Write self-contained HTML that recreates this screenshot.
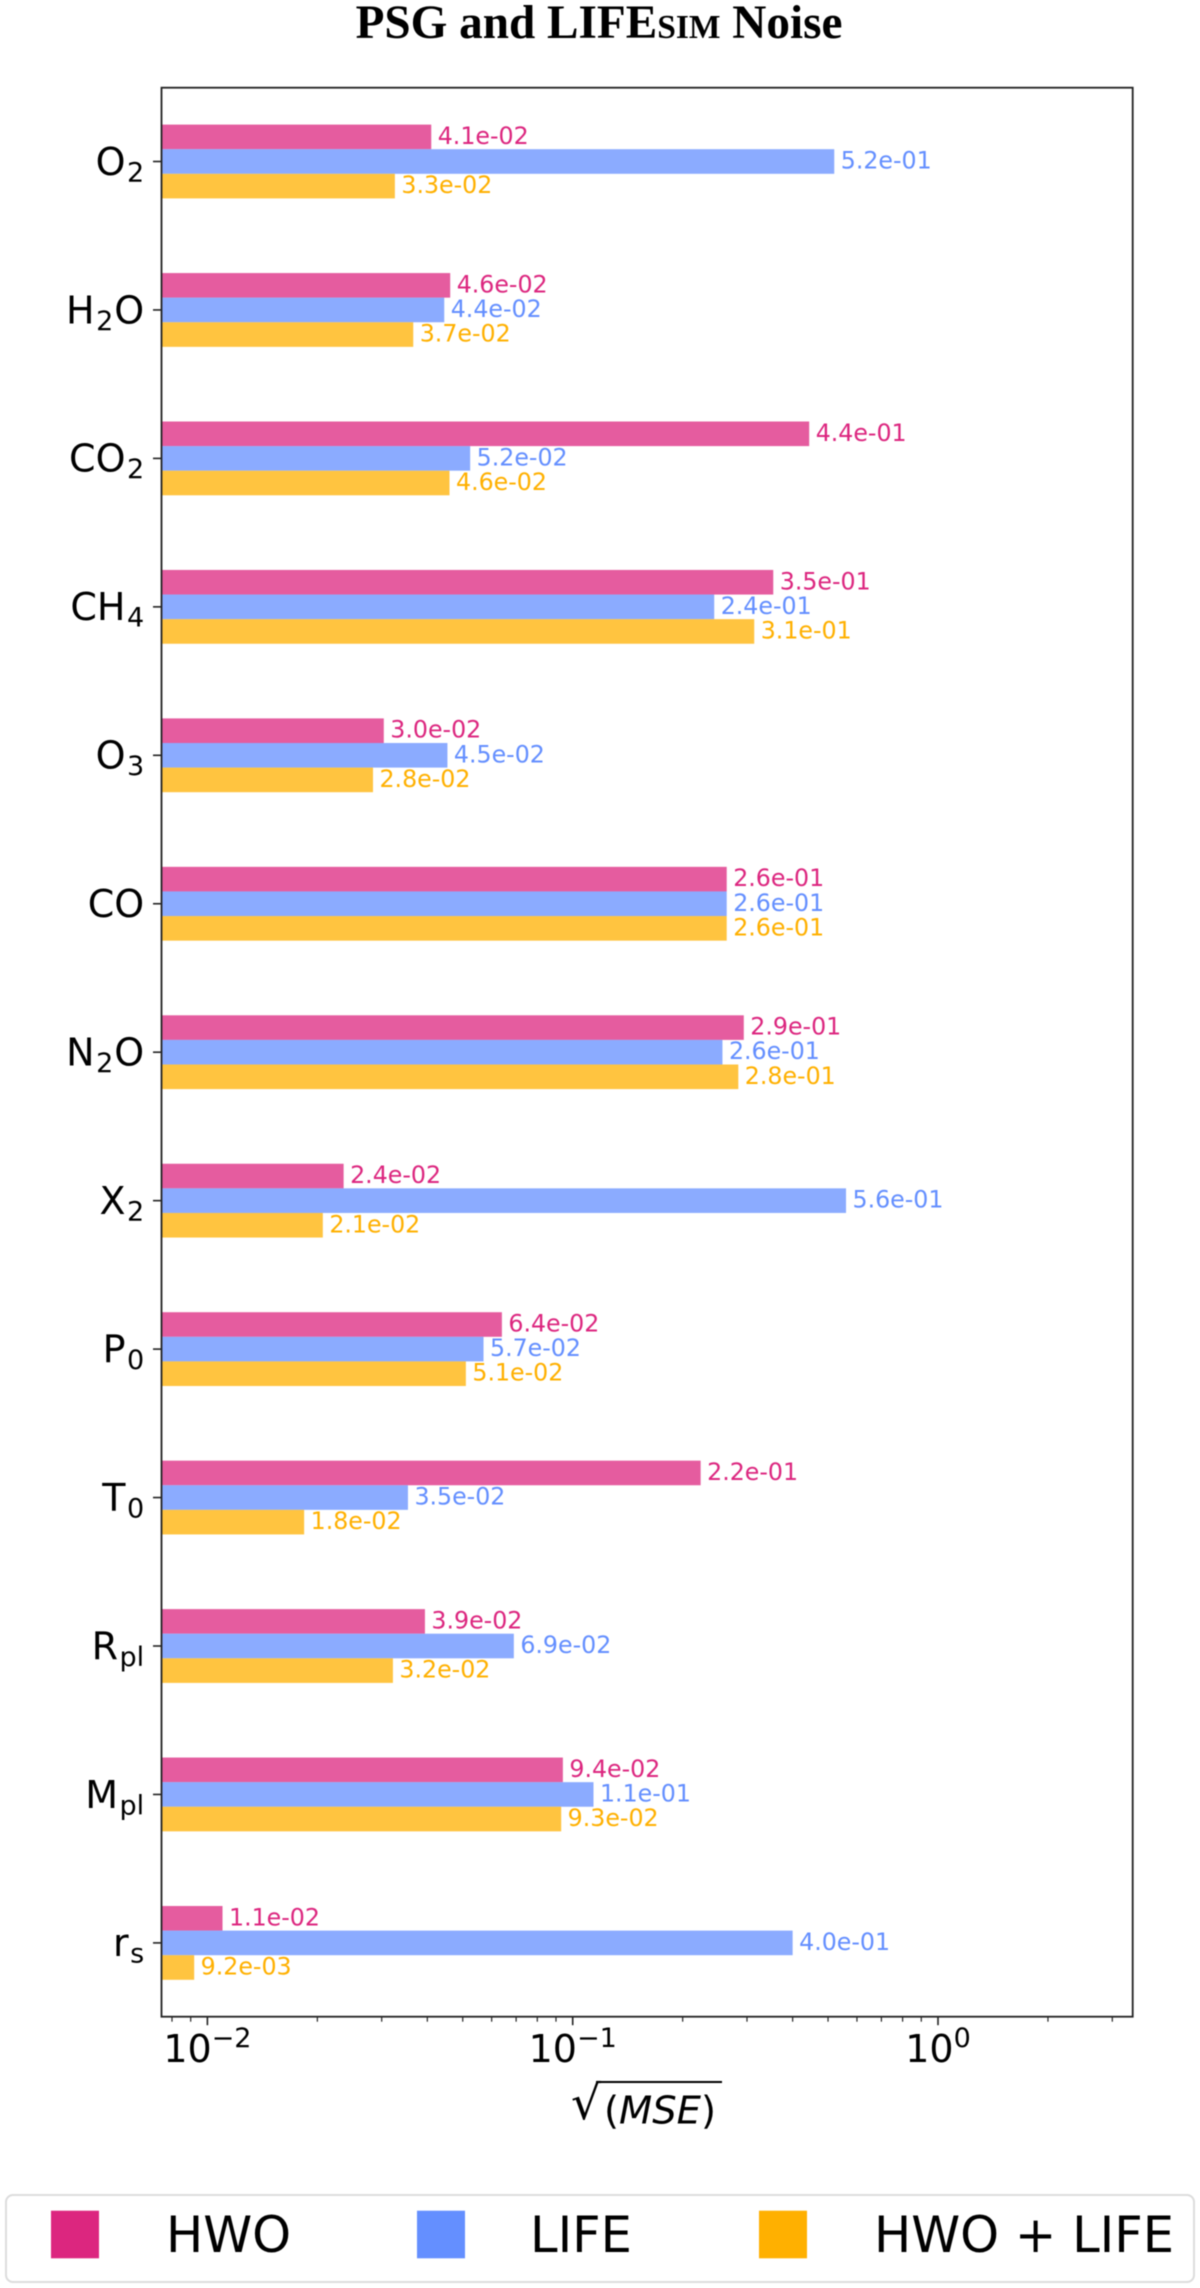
<!DOCTYPE html>
<html lang="en">
<head>
<meta charset="utf-8">
<title>PSG and LIFEsim Noise</title>
<style>
html,body{margin:0;padding:0;background:#fff;}
#chart{display:block;filter:blur(0.5px);}
text{font-family:"DejaVu Sans",sans-serif;}
</style>
</head>
<body>
<svg id="chart" xmlns="http://www.w3.org/2000/svg" width="1200" height="2288" viewBox="0 0 1200 2288">
  <rect x="0" y="0" width="1200" height="2288" fill="#ffffff"/>
  <text x="599" y="38" text-anchor="middle" font-size="47.2" font-weight="bold" style="font-family:'Liberation Serif',serif">PSG and LIFE<tspan font-size="33.5">SIM</tspan> Noise</text>
  <g id="bars"></g>
  <g id="axes"></g>
  <g>
    <text x="571" y="2119" font-size="47">√</text>
    <line x1="596" y1="2082" x2="722" y2="2082" stroke="#000" stroke-width="2"/>
    <text x="604" y="2123.3" font-size="38.5">(<tspan font-style="italic">MSE</tspan>)</text>
  </g>
  <g>
    <rect x="6" y="2195" width="1188" height="87" rx="7" ry="7" fill="#fff" stroke="#dcdcdc" stroke-width="2"/>
    <rect x="51" y="2210.7" width="48" height="47.6" fill="#DC267F"/>
    <text x="166" y="2252" font-size="49.5">HWO</text>
    <rect x="417" y="2210.7" width="48" height="47.6" fill="#648FFF"/>
    <text x="530" y="2252" font-size="49.5">LIFE</text>
    <rect x="759" y="2210.7" width="48" height="47.6" fill="#FFB000"/>
    <text x="874" y="2252" font-size="49.5">HWO + LIFE</text>
  </g>
</svg>
<script>
const categories = ["O_2","H_2O","CO_2","CH_4","O_3","CO","N_2O","X_2","P_0","T_0","R_pl","M_pl","r_s"];
const hwoValues = [0.041,0.0462,0.444,0.354,0.0304,0.264,0.294,0.0236,0.064,0.224,0.0394,0.094,0.011];
const lifeValues = [0.52,0.0445,0.0524,0.244,0.0454,0.264,0.257,0.56,0.057,0.0354,0.069,0.114,0.40];
const bothValues = [0.0326,0.0366,0.046,0.314,0.0284,0.264,0.284,0.0207,0.051,0.0184,0.0322,0.093,0.0092];
const majorTickValues = [0.01,0.1,1];
const majorTickExponents = ["\u22122","\u22121","0"];
const minorTickValues = [0.008,0.009,0.02,0.03,0.04,0.05,0.06,0.07,0.08,0.09,0.2,0.3,0.4,0.5,0.6,0.7,0.8,0.9,2,3];

const NS = "http://www.w3.org/2000/svg";
const plot = {left:161.5, right:1132.7, top:87.7, bottom:2016.7};
const decadePx = 365.3, xOfOne = 938;
const firstCatY = 161.5, catStep = 148.45, barH = 24.6;

function xScale(v){ return xOfOne + decadePx * Math.log10(v); }
function yScale(i){ return firstCatY + catStep * i; }
function make(tag, parent){
  const el = document.createElementNS(NS, tag);
  parent.appendChild(el);
  return el;
}
function fmt(v){
  const p = v.toExponential(1).split("e");
  const e = parseInt(p[1], 10);
  return p[0] + "e" + (e < 0 ? "-" : "+") + String(Math.abs(e)).padStart(2, "0");
}

const barsLayer = document.getElementById("bars");
const axesLayer = document.getElementById("axes");
const series = [
  {key:"hwo", values:hwoValues, fill:"#DC267F"},
  {key:"life", values:lifeValues, fill:"#648FFF"},
  {key:"hwo-life", values:bothValues, fill:"#FFB000"}
];

series.forEach(function(s, si){
  s.values.forEach(function(v, i){
    const yTop = yScale(i) + (si - 1.5) * barH;
    const xEnd = xScale(v);
    const r = make("rect", barsLayer);
    
    
    r.setAttribute("x", plot.left);
    r.setAttribute("y", yTop);
    r.setAttribute("width", Math.max(0, xEnd - plot.left));
    r.setAttribute("height", barH);
    r.setAttribute("fill", s.fill);
    r.setAttribute("fill-opacity", "0.75");
    const t = make("text", barsLayer);
    
    
    t.setAttribute("x", xEnd + 6.5);
    t.setAttribute("y", yScale(i) + (si - 1) * barH + 7);
    t.setAttribute("font-size", "23.7");
    t.setAttribute("fill", s.fill);
    t.textContent = fmt(v);
  });
});

categories.forEach(function(c, i){
  const y = yScale(i);
  const tick = make("line", axesLayer);
  
  
  tick.setAttribute("x1", plot.left - 8.5);
  tick.setAttribute("x2", plot.left);
  tick.setAttribute("y1", y);
  tick.setAttribute("y2", y);
  tick.setAttribute("stroke", "#222");
  tick.setAttribute("stroke-width", "1.6");
  const t = make("text", axesLayer);
  
  
  t.setAttribute("x", 144.2);
  t.setAttribute("y", y + 13.3);
  t.setAttribute("text-anchor", "end");
  t.setAttribute("font-size", "38");
  const m = c.match(/^([^_]*)(?:_(pl|.))?(.*)$/);
  if (m[1]) { const a = make("tspan", t); a.textContent = m[1]; }
  if (m[2]) {
    const b = make("tspan", t);
    b.setAttribute("font-size", "27");
    b.setAttribute("dy", "6.5");
    b.setAttribute("dx", "1.5");
    b.textContent = m[2];
  }
  if (m[3]) {
    const d = make("tspan", t);
    d.setAttribute("dy", "-6.5");
    d.setAttribute("dx", "1");
    d.textContent = m[3];
  }
});

majorTickValues.forEach(function(v, i){
  const x = xScale(v);
  const tick = make("line", axesLayer);
  
  
  tick.setAttribute("x1", x);
  tick.setAttribute("x2", x);
  tick.setAttribute("y1", plot.bottom);
  tick.setAttribute("y2", plot.bottom + 8.5);
  tick.setAttribute("stroke", "#222");
  tick.setAttribute("stroke-width", "1.6");
  const t = make("text", axesLayer);
  
  
  t.setAttribute("x", x);
  t.setAttribute("y", 2062);
  t.setAttribute("text-anchor", "middle");
  t.setAttribute("font-size", "38");
  const base = make("tspan", t);
  base.textContent = "10";
  const sup = make("tspan", t);
  sup.setAttribute("font-size", "27");
  sup.setAttribute("dy", "-15");
  sup.textContent = majorTickExponents[i];
});

minorTickValues.forEach(function(v){
  const x = xScale(v);
  const tick = make("line", axesLayer);
  
  
  tick.setAttribute("x1", x);
  tick.setAttribute("x2", x);
  tick.setAttribute("y1", plot.bottom);
  tick.setAttribute("y2", plot.bottom + 5);
  tick.setAttribute("stroke", "#222");
  tick.setAttribute("stroke-width", "1.2");
});

const frame = make("rect", axesLayer);


frame.setAttribute("x", plot.left);
frame.setAttribute("y", plot.top);
frame.setAttribute("width", plot.right - plot.left);
frame.setAttribute("height", plot.bottom - plot.top);
frame.setAttribute("fill", "none");
frame.setAttribute("stroke", "#222");
frame.setAttribute("stroke-width", "1.8");
</script>
</body>
</html>
